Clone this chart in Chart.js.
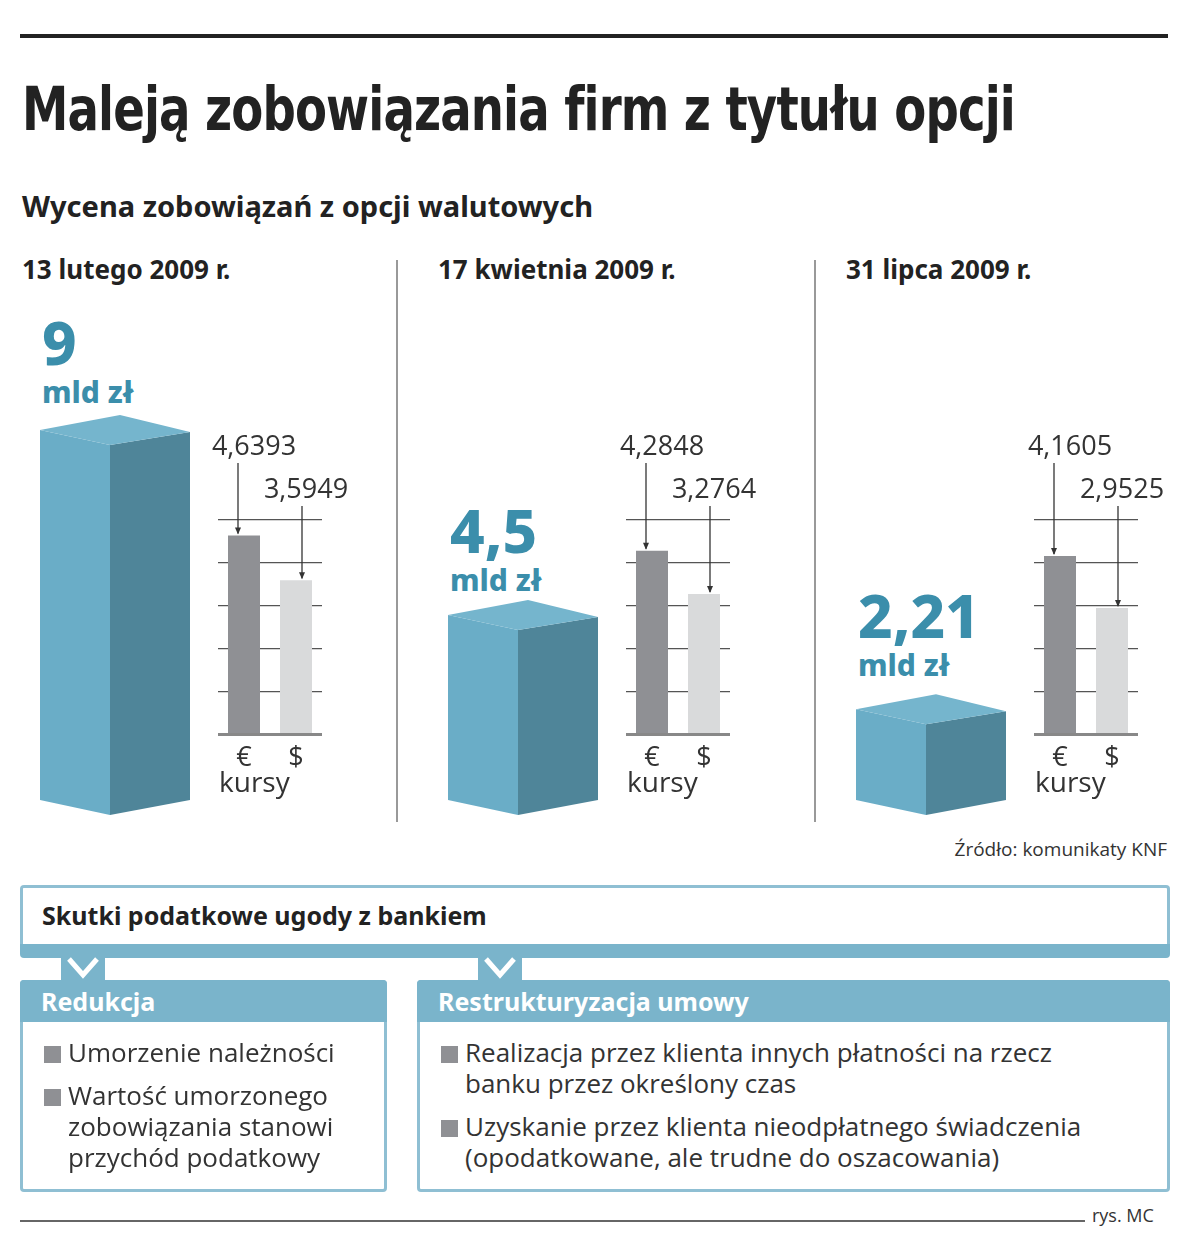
<!DOCTYPE html>
<html><head><meta charset="utf-8">
<script src="https://cdn.jsdelivr.net/npm/chart.js@4"></script>
<style>
body{margin:0;width:1200px;height:1242px;background:#fff;position:relative;font-family:"Open Sans",sans-serif;color:#222;overflow:hidden}
.a{position:absolute;white-space:nowrap}
.fit{transform-origin:0 0}
.rule{position:absolute;background:#222}
.vs{position:absolute;width:2px;background:#999;top:260px;height:562px}
.ph{font-family:"Noto Sans",sans-serif;font-weight:700;font-size:26px;top:251px}
.big{font-family:"Noto Sans",sans-serif;font-weight:800;color:#3b8eab}
canvas{position:absolute}
.kursy{font-size:28px;top:762px;color:#333}
.box{position:absolute;border:3px solid #8fbfd3;border-radius:4px;background:#fff}
.bh{position:absolute;background:#7ab4cb;color:#fff;font-family:"Noto Sans",sans-serif;font-weight:700;font-size:25px}
.li{position:absolute;font-size:26px;line-height:31px;color:#333;white-space:nowrap}
.sq{position:absolute;width:17px;height:17px;background:#8f9094}
</style></head><body>
<div class="rule" style="left:20px;top:34px;width:1148px;height:4px"></div>
<div class="a fit" data-w="993" style="left:22px;top:74px;font-family:'Liberation Sans Narrow','DejaVu Sans Condensed',sans-serif;font-weight:700;font-size:60px;letter-spacing:-1px">Maleją zobowiązania firm z tytułu opcji</div>
<div class="a" style="left:22px;top:186px;font-family:'Noto Sans',sans-serif;font-weight:700;font-size:29px">Wycena zobowiązań z opcji walutowych</div>

<div class="vs" style="left:396px"></div><div class="vs" style="left:814px"></div>
<div id="panels"></div>

<div class="a" style="right:33px;top:836px;font-size:19px;color:#333">Źródło: komunikaty KNF</div>

<div class="box" style="left:20px;top:885px;width:1144px;height:58px;border-bottom:none;border-radius:4px 4px 0 0"></div>
<div style="position:absolute;left:20px;top:944px;width:1150px;height:14px;background:#7ab4cb;border-radius:0 0 4px 4px"></div>
<div class="a" style="left:42px;top:898px;font-family:'Noto Sans',sans-serif;font-weight:700;font-size:25px">Skutki podatkowe ugody z bankiem</div>
<canvas id="chev" width="1200" height="40" style="left:0;top:955px"></canvas>

<div class="box" style="left:20px;top:980px;width:361px;height:206px"></div>
<div class="bh" style="left:20px;top:980px;width:367px;height:42px;border-radius:4px 4px 0 0"><span style="position:absolute;left:21px;top:4px">Redukcja</span></div>
<div class="box" style="left:417px;top:980px;width:747px;height:206px"></div>
<div class="bh" style="left:417px;top:980px;width:753px;height:42px;border-radius:4px 4px 0 0"><span style="position:absolute;left:21px;top:4px">Restrukturyzacja umowy</span></div>

<div class="sq" style="left:44px;top:1046px"></div>
<div class="li" style="left:68px;top:1037px">Umorzenie należności</div>
<div class="sq" style="left:44px;top:1089px"></div>
<div class="li" style="left:68px;top:1080px">Wartość umorzonego<br>zobowiązania stanowi<br>przychód podatkowy</div>
<div class="sq" style="left:441px;top:1046px"></div>
<div class="li" style="left:465px;top:1037px">Realizacja przez klienta innych płatności na rzecz<br>banku przez określony czas</div>
<div class="sq" style="left:441px;top:1120px"></div>
<div class="li" style="left:465px;top:1111px">Uzyskanie przez klienta nieodpłatnego świadczenia<br>(opodatkowane, ale trudne do oszacowania)</div>

<div class="rule" style="left:20px;top:1220px;width:1065px;height:2px;background:#666"></div>
<div class="a" style="left:1092px;top:1203px;font-size:18px;color:#333">rys. MC</div>

<script>
const dates = ["13 lutego 2009 r.", "17 kwietnia 2009 r.", "31 lipca 2009 r."];
const totals = [9, 4.5, 2.21];
const totalLabels = ["9", "4,5", "2,21"];
const unitLabel = "mld zł";
const currencies = ["€", "$"];
const eurRates = [4.6393, 4.2848, 4.1605];
const usdRates = [3.5949, 3.2764, 2.9525];
const fmt = v => v.toFixed(4).replace(".", ",");

const panels = document.getElementById("panels");
const bigTop = [312, 500, 585];

const boxPlugin = {
  id: "box3d",
  afterDatasetsDraw(chart) {
    const ctx = chart.ctx, el = chart.getDatasetMeta(0).data[0];
    const L = chart.chartArea.left, R = chart.chartArea.right, M = L + 70, d = 15;
    const yT = el.y, yB = chart.scales.y.getPixelForValue(0);
    ctx.save();
    ctx.fillStyle = "#6aadc7";
    ctx.beginPath(); ctx.moveTo(L, yT); ctx.lineTo(M, yT + d); ctx.lineTo(M, yB + d); ctx.lineTo(L, yB); ctx.fill();
    ctx.fillStyle = "#4f8599";
    ctx.beginPath(); ctx.moveTo(M, yT + d); ctx.lineTo(R, yT + 2); ctx.lineTo(R, yB); ctx.lineTo(M, yB + d); ctx.fill();
    ctx.fillStyle = "#75b5cd";
    ctx.beginPath(); ctx.moveTo(L, yT); ctx.lineTo(L + 80, yT - 15); ctx.lineTo(R, yT + 2); ctx.lineTo(M, yT + d); ctx.fill();
    ctx.restore();
  }
};

const annPlugin = {
  id: "rateLabels",
  afterDraw(chart) {
    const ctx = chart.ctx, bars = chart.getDatasetMeta(0).data, vals = chart.data.datasets[0].data;
    const top = chart.chartArea.top;
    const cfg = [{dx: -6, ly: top - 73}, {dx: 6, ly: top - 30}];
    ctx.save();
    ctx.strokeStyle = "#333"; ctx.fillStyle = "#333"; ctx.lineWidth = 1.3;
    ctx.font = "27px 'Open Sans'"; ctx.textAlign = "center"; ctx.textBaseline = "middle";
    bars.forEach((b, i) => {
      const x = b.x + cfg[i].dx;
      ctx.fillText(fmt(vals[i]), b.x + 10, cfg[i].ly);
      ctx.beginPath(); ctx.moveTo(x, cfg[i].ly + 16); ctx.lineTo(x, b.y - 2); ctx.stroke();
      ctx.beginPath(); ctx.moveTo(x - 3, b.y - 8); ctx.lineTo(x + 3, b.y - 8); ctx.lineTo(x, b.y - 1); ctx.fill();
    });
    ctx.restore();
  }
};

dates.forEach((dt, i) => {
  const off = i * 408;
  panels.insertAdjacentHTML("beforeend",
    `<div class="a ph" style="left:${22 + off + (i ? 8 : 0)}px">${dt}</div>
     <div class="a big" style="left:${42 + off}px;top:${bigTop[i]}px;font-size:60px;line-height:60px">${totalLabels[i]}</div>
     <div class="a big" style="left:${42 + off}px;top:${bigTop[i] + 62}px;font-size:30px;line-height:36px">${unitLabel}</div>
     <canvas id="b${i}" width="150" height="430" style="left:${40 + off}px;top:400px;width:150px;height:430px"></canvas>
     <canvas id="k${i}" width="150" height="345" style="left:${200 + off}px;top:430px;width:150px;height:345px"></canvas>
     <div class="a kursy" style="left:${219 + off}px">kursy</div>`);
});

dates.forEach((dt, i) => {
  new Chart(document.getElementById("b" + i), {
    type: "bar",
    data: {labels: [""], datasets: [{data: [totals[i]], backgroundColor: "rgba(0,0,0,0)", categoryPercentage: 1, barPercentage: 1}]},
    options: {responsive: false, animation: false, layout: {padding: {top: 0, bottom: 30}},
      plugins: {legend: {display: false}, tooltip: {enabled: false}},
      scales: {x: {display: false}, y: {display: false, min: 0, max: 9.73}}},
    plugins: [boxPlugin]
  });
  new Chart(document.getElementById("k" + i), {
    type: "bar",
    data: {labels: currencies, datasets: [{data: [eurRates[i], usdRates[i]], backgroundColor: ["#8f9094", "#d9dadb"], categoryPercentage: 1, barPercentage: 32 / 52}]},
    options: {responsive: false, animation: false, layout: {padding: {top: 90, left: 18, right: 28, bottom: 0}},
      plugins: {legend: {display: false}, tooltip: {enabled: false}},
      scales: {
        x: {grid: {display: false}, border: {display: false}, ticks: {color: "#333", font: {size: 27, family: "Open Sans"}, padding: 0}},
        y: {min: 0, max: 5, ticks: {display: false, stepSize: 1}, border: {display: false},
            grid: {drawTicks: false, color: c => c.tick.value === 0 ? "#888" : "#555", lineWidth: c => c.tick.value === 0 ? 3 : 1.3}}
      }},
    plugins: [annPlugin]
  });
});

// chevrons
const cc = document.getElementById("chev").getContext("2d");
[83, 500].forEach(x => {
  cc.fillStyle = "#7ab4cb"; cc.fillRect(x - 22, 0, 44, 26);
  cc.strokeStyle = "#fff"; cc.lineWidth = 5; cc.beginPath();
  cc.moveTo(x - 14, 4); cc.lineTo(x, 20); cc.lineTo(x + 14, 4); cc.stroke();
});

document.querySelectorAll(".fit").forEach(e => {
  const w = +e.dataset.w; e.style.transform = `scaleX(${w / e.scrollWidth})`;
});
</script>
</body></html>
